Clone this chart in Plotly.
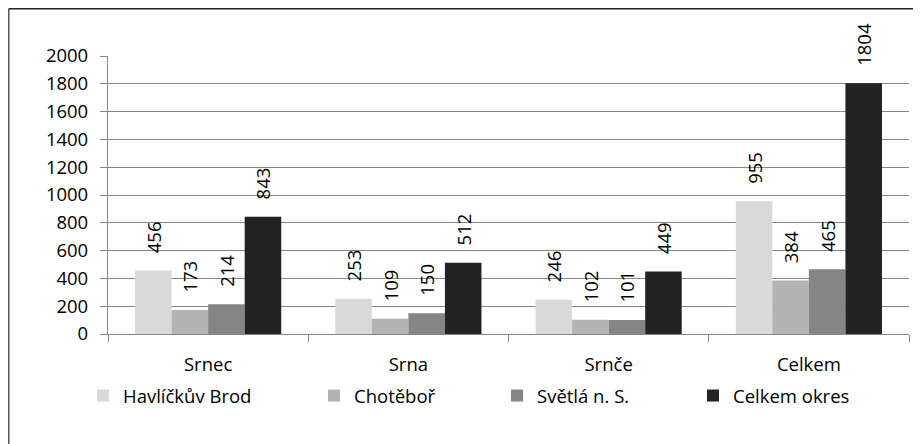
import plotly.graph_objects as go

categories = ["Srnec", "Srna", "Srnče", "Celkem"]
series_names = ["Havlíčkův Brod", "Chotěboř", "Světlá n. S.", "Celkem okres"]
hb = [456, 253, 246, 955]
ch = [173, 109, 102, 384]
sv = [214, 150, 101, 465]
co = [843, 512, 449, 1804]
series_values = [hb, ch, sv, co]
colors = ["#d9d9d9", "#b3b3b3", "#858585", "#232323"]
y_ticks = list(range(0, 2001, 200))

# page body has an 8px margin; figure is sized so it ends at the window edge
OFF = 8
W, H = 921 - OFF, 444 - OFF
ML, MR, MT, MB = 108 - OFF, 12, 56 - OFF, 110
PW, PH = W - ML - MR, H - MT - MB
FONT = "Open Sans"
FS = 18.5

def px_x(p):
    return (p - ML) / PW

def px_y(p):
    return (H - MB - p) / PH

fig = go.Figure()
legend_ids = ["legend", "legend2", "legend3", "legend4"]
legend_px = [83 - OFF, 314 - OFF, 497 - OFF, 693 - OFF]
for i, (name, vals) in enumerate(zip(series_names, series_values)):
    fig.add_trace(go.Bar(
        x=categories, y=vals, name=name,
        marker=dict(color=colors[i], line=dict(width=0)),
        text=["\u00a0\u00a0\u00a0" + str(v) for v in vals],
        textposition="outside", textangle=-90,
        textfont=dict(family=FONT, size=FS, color="#000000"),
        constraintext="none", cliponaxis=False,
        legend=legend_ids[i], hoverinfo="skip",
    ))

layout_legends = {}
for i, lid in enumerate(legend_ids):
    layout_legends[lid] = dict(
        x=px_x(legend_px[i]), y=px_y(396 - OFF), xanchor="left", yanchor="middle",
        orientation="h", font=dict(family=FONT, size=FS, color="#000000"),
        bgcolor="rgba(0,0,0,0)", borderwidth=0,
    )

fig.update_layout(
    width=W, height=H,
    margin=dict(l=ML, r=MR, t=MT, b=MB, pad=0),
    paper_bgcolor="#ffffff", plot_bgcolor="#ffffff",
    barmode="group", bargap=0.27, bargroupgap=0,
    font=dict(family=FONT, size=FS, color="#000000"),
    showlegend=True,
    **layout_legends,
)
fig.update_xaxes(
    showline=True, linecolor="#868686", linewidth=1.2,
    ticks="outside", ticklen=7, tickcolor="#868686", tickwidth=1.2,
    tickson="boundaries", showgrid=False, ticklabelstandoff=14,
    tickfont=dict(family=FONT, size=FS, color="#000000"),
)
fig.update_yaxes(
    range=[0, 2000], tickvals=y_ticks, ticktext=[str(v) for v in y_ticks],
    showgrid=True, gridcolor="#868686", gridwidth=1.2,
    showline=True, linecolor="#868686", linewidth=1.2,
    ticks="outside", ticklen=7, tickcolor="#868686", tickwidth=1.2,
    zeroline=False, ticklabelstandoff=8,
    tickfont=dict(family=FONT, size=FS, color="#000000"),
)
# chart frame (top and left edges visible in the reference)
fig.add_shape(type="line", xref="paper", yref="paper",
              x0=px_x(0.75), x1=px_x(W + 5), y0=px_y(0.75), y1=px_y(0.75),
              line=dict(color="#222222", width=1.5))
fig.add_shape(type="line", xref="paper", yref="paper",
              x0=px_x(0.75), x1=px_x(0.75), y0=px_y(0.75), y1=px_y(H + 5),
              line=dict(color="#555555", width=1.5))

fig.write_html("out.html")
